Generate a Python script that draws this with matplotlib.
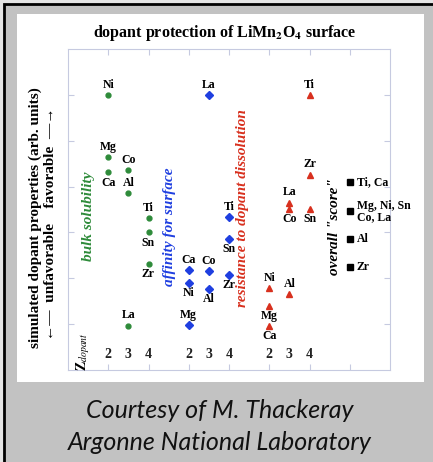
import matplotlib
matplotlib.use('Agg')
import matplotlib.pyplot as plt
from matplotlib.patches import Rectangle

plt.rcParams['font.family'] = ['Liberation Serif', 'DejaVu Serif']
plt.rcParams['mathtext.fontset'] = 'stix'

# group x positions (Z = 2, 3, 4 inside each group)
z_values = ['2', '3', '4']

bulk_x = [1, 1, 1, 1.5, 1.5, 1.5, 2, 2, 2]
bulk_y = [6.0, 4.65, 4.31, 4.36, 3.86, 0.97, 3.32, 3.0, 2.31]
bulk_names = ['Ni', 'Mg', 'Ca', 'Co', 'Al', 'La', 'Ti', 'Sn', 'Zr']
bulk_side = ['up', 'up', 'down', 'up', 'up', 'up', 'up', 'down', 'down']

surf_x = [3, 3, 3, 3.5, 3.5, 3.5, 4, 4, 4]
surf_y = [2.18, 1.89, 0.98, 6.0, 2.16, 1.76, 3.34, 2.85, 2.07]
surf_names = ['Ca', 'Ni', 'Mg', 'La', 'Co', 'Al', 'Ti', 'Sn', 'Zr']
surf_side = ['up', 'down', 'up', 'up', 'up', 'down', 'up', 'down', 'down']

diss_x = [5, 5, 5, 5.5, 5.5, 5.5, 6, 6, 6]
diss_y = [1.78, 1.39, 0.97, 1.65, 3.65, 3.51, 6.0, 4.26, 3.51]
diss_names = ['Ni', 'Mg', 'Ca', 'Al', 'La', 'Co', 'Ti', 'Zr', 'Sn']
diss_side = ['up', 'down', 'down', 'up', 'up', 'down', 'up', 'up', 'down']

score_x = [7, 7, 7, 7]
score_y = [4.09, 3.46, 2.85, 2.24]
score_names = ['Ti, Ca', 'Mg, Ni, Sn\nCo, La', 'Al', 'Zr']

green = '#2e8b3a'
blue = '#1f3fe0'
red = '#d8301e'

fig = plt.figure(figsize=(4.33, 4.62), dpi=100)
fig.patch.set_facecolor('#e4e4e4')
fig.patches.append(Rectangle((4 / 433, -0.01), 1.0, 1 - 4 / 462 + 0.01,
                             transform=fig.transFigure, facecolor='#c2c2c2',
                             edgecolor='black', linewidth=2, zorder=-2))
fig.patches.append(Rectangle((17 / 433, 1 - 382 / 462), 407 / 433, 368 / 462,
                             transform=fig.transFigure, facecolor='white',
                             edgecolor='none', zorder=-1))

ax = fig.add_axes([68 / 433, 1 - 370 / 462, 322 / 433, 321 / 462])
ax.set_zorder(2)
ax.set_facecolor('none')
ax.set_xlim(0, 8)
ax.set_ylim(0, 7)
ax.set_xticks(range(1, 8))
ax.set_yticks(range(1, 7))
ax.tick_params(direction='in', top=True, right=True, labelbottom=False,
               labelleft=False, length=4, color='#c6cae0', width=0.8)
for sp in ax.spines.values():
    sp.set_color('#c6cae0')
    sp.set_linewidth(0.8)

lab_kw = dict(fontsize=8.5, fontweight='bold', ha='center', textcoords='offset points')


def put_labels(xs, ys, names, sides):
    for x, y, n, s in zip(xs, ys, names, sides):
        if s == 'up':
            ax.annotate(n, (x, y), xytext=(0, 3), va='bottom', **lab_kw)
        else:
            ax.annotate(n, (x, y), xytext=(0, -3), va='top', **lab_kw)


ax.plot(bulk_x, bulk_y, 'o', color=green, ms=3.5, ls='none')
ax.plot(surf_x, surf_y, 'D', color=blue, ms=3.8, ls='none')
ax.plot(diss_x, diss_y, '^', color=red, ms=4.8, ls='none')
ax.plot(score_x, score_y, 's', color='black', ms=5, ls='none')
put_labels(bulk_x, bulk_y, bulk_names, bulk_side)
put_labels(surf_x, surf_y, surf_names, surf_side)
put_labels(diss_x, diss_y, diss_names, diss_side)
for x, y, n in zip(score_x, score_y, score_names):
    ax.annotate(n, (x, y), xytext=(5, 0), va='center', ha='left',
                fontsize=8.5, fontweight='bold', textcoords='offset points',
                linespacing=0.95)

# Z of the dopant under each group
for start in [1, 3, 5]:
    for i, z in enumerate(z_values):
        ax.text(start + 0.5 * i, 0.33, z, ha='center', va='center',
                fontsize=10, fontweight='bold', color='#222222')
ax.text(0.37, 0.4, r'$\mathbf{Z}_{\mathit{dopant}}$', rotation=90,
        ha='center', va='center', fontsize=10)

# group names
it_kw = dict(rotation=90, ha='center', va='center', fontsize=11,
             fontweight='bold', style='italic')
ax.text(0.5, 3.36, 'bulk solubility', color=green, **it_kw)
ax.text(2.53, 3.12, 'affinity for surface', color=blue, **it_kw)
ax.text(4.34, 3.53, 'resistance to dopant dissolution', color=red, **it_kw)
ax.text(6.63, 3.12, 'overall "score"', color='black', **it_kw)

# y label in two lines
fig.text(35 / 433, 1 - 218 / 462, 'simulated dopant properties (arb. units)',
         rotation=90, ha='center', va='center', fontsize=11, fontweight='bold')
fig.text(51 / 433, 1 - 224 / 462, '\u2190\u2014  unfavorable    favorable  \u2014\u2192',
         rotation=90, ha='center', va='center', fontsize=11, fontweight='bold')

fig.text(225 / 433, 1 - 33 / 462,
         r'dopant protection of LiMn$_{\mathbf{2}}$O$_{\mathbf{4}}$ surface',
         ha='center', va='center', fontsize=11.5, fontweight='bold')

cap_kw = dict(ha='center', va='center', fontsize=18, style='italic',
              family=['Lato', 'DejaVu Sans'], color='#111111')
fig.text(220 / 433, 1 - 410 / 462, 'Courtesy of M. Thackeray', **cap_kw)
fig.text(220 / 433, 1 - 442 / 462, 'Argonne National Laboratory', **cap_kw)

fig.savefig('out.png', dpi=100)
